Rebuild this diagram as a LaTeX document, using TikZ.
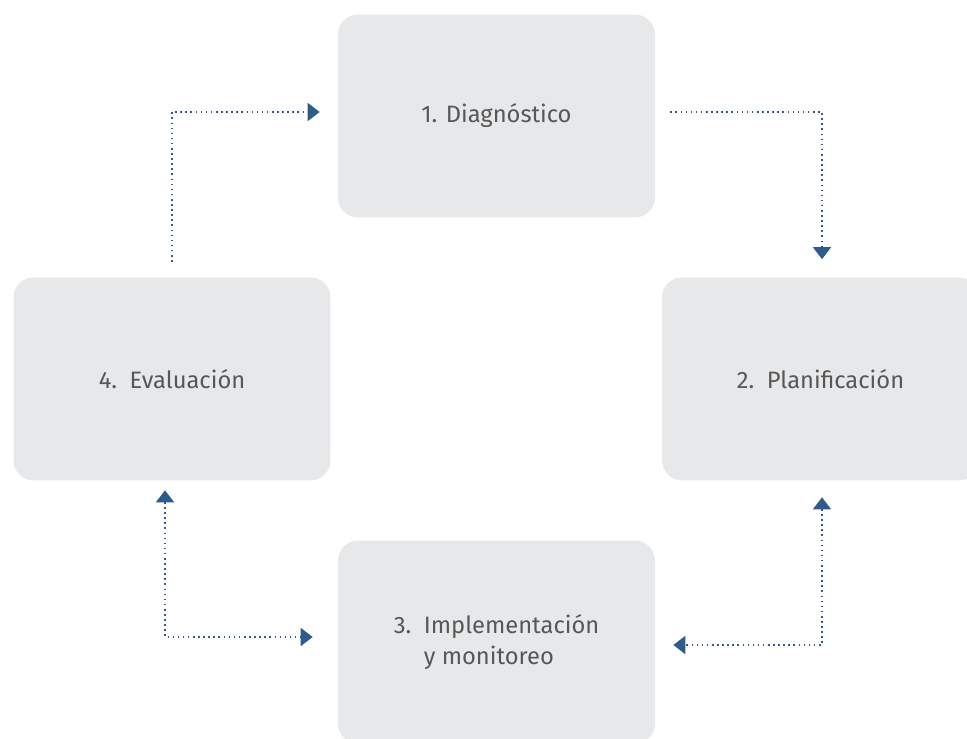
\documentclass[tikz,border=0pt]{standalone}
\usepackage{fontspec}
\setmainfont{Fira Sans}
\usetikzlibrary{positioning, arrows.meta}
\definecolor{boxgray}{HTML}{E6E8EA}
\definecolor{flowblue}{HTML}{2E5B8A}
\definecolor{txtgray}{HTML}{575757}

\begin{document}
\begin{tikzpicture}[
    x=0.02cm, y=-0.02cm,
    >={Triangle[length=0.24cm, width=0.36cm]},
    stage/.style={rectangle, rounded corners=0.4cm, fill=boxgray, minimum width=6.34cm, minimum height=4.06cm, font=\fontsize{13.5}{17.6}\selectfont, text=txtgray, anchor=center},
    flow/.style={->, dotted, line width=0.9pt, flowblue}
]

\useasboundingbox (0,0) rectangle (967,738);

% stages of the cycle
\node[stage] (diag) at (496.5,116) {1. Diagnóstico};
\node[stage] (plan) at (820.5,379) {2.~~Planificación};
\node[stage, align=left] (impl) at (496.5,642) {3.~~Implementación\\\phantom{3.~~}y monitoreo};
\node[stage] (eval) at (172,379) {4.~~Evaluación};

% connectors
\draw[flow] ([yshift=0.31cm]eval.north) |- ([xshift=-0.36cm, yshift=0.08cm]diag.west);
\draw[flow] ([xshift=0.3cm, yshift=0.08cm]diag.east) -| ([xshift=0.03cm, yshift=0.36cm]plan.north);
\draw[flow, <->] ([xshift=0.03cm, yshift=-0.33cm]plan.south) |- ([xshift=0.36cm, yshift=-0.06cm]impl.east);
\draw[flow, <->] ([xshift=-0.14cm, yshift=-0.19cm]eval.south) |- ([xshift=-0.5cm, yshift=0.1cm]impl.west);

\end{tikzpicture}
\end{document}
